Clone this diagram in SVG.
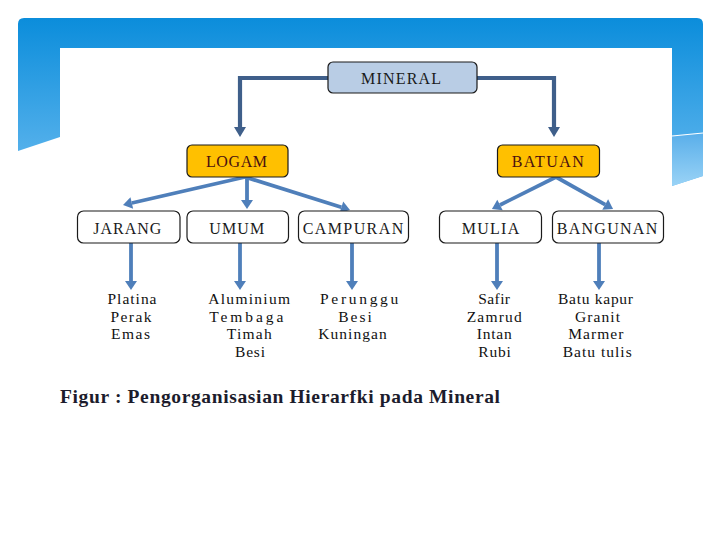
<svg xmlns="http://www.w3.org/2000/svg" width="720" height="540" viewBox="0 0 720 540">
<defs>
<linearGradient id="frameGrad" x1="0" y1="18" x2="0" y2="186" gradientUnits="userSpaceOnUse">
<stop offset="0" stop-color="#0b8ddb"/>
<stop offset="1" stop-color="#66b9ef"/>
</linearGradient>
<linearGradient id="lowGrad" x1="0" y1="134" x2="0" y2="186" gradientUnits="userSpaceOnUse">
<stop offset="0" stop-color="#5aafea"/>
<stop offset="1" stop-color="#9ad3f6"/>
</linearGradient>
<marker id="arrDark" markerUnits="userSpaceOnUse" markerWidth="14" markerHeight="14" viewBox="0 -7 11 14" refX="0" refY="0" orient="auto">
<path d="M0,-6 L10,0 L0,6 Z" fill="#3f5f8a"/>
</marker>
<marker id="arrLight" markerUnits="userSpaceOnUse" markerWidth="14" markerHeight="14" viewBox="0 -7 11 14" refX="0" refY="0" orient="auto">
<path d="M0,-6 L9,0 L0,6 Z" fill="#4f7fba"/>
</marker>
</defs>
<style>
.box{stroke:#1a1a1a;stroke-width:1.2}
.top{fill:#b9cde5}
.gold{fill:#ffc000}
.plain{fill:#ffffff}
.lbl{font-family:"Liberation Serif","DejaVu Serif",serif;font-size:16px;fill:#1a1a1a}
.lblg{font-family:"Liberation Serif","DejaVu Serif",serif;font-size:16px;fill:#4a1010}
.item{font-family:"Liberation Serif","DejaVu Serif",serif;font-size:15.5px;fill:#111111}
.cap{font-family:"Liberation Serif","DejaVu Serif",serif;font-size:19.5px;font-weight:bold;fill:#1c1c2c}
.dk{fill:none;stroke:#3f5f8a;stroke-width:4.2;marker-end:url(#arrDark)}
.lt{fill:none;stroke:#4f7fba;stroke-width:3.8;marker-end:url(#arrLight)}
</style>
<rect width="720" height="540" fill="#ffffff"/>
<g id="frame">
<path d="M18,151 L18,24 Q18,18 24,18 L697,18 Q703,18 703,24 L703,176 L672,186 L672,48 L60,48 L60,137 Z" fill="url(#frameGrad)"/>
<path d="M672,136 L703,133 L703,176 L672,186 Z" fill="url(#lowGrad)"/>
<path d="M672,136 L703,133" stroke="#ffffff" stroke-width="1.2" fill="none"/>
</g>
<g id="connectors">
<path class="dk" d="M328,78 H240 V127"/>
<path class="dk" d="M477,78 H554 V127"/>
<path class="lt" d="M245,177 L131.8,203"/>
<path class="lt" d="M247,177 L247,200"/>
<path class="lt" d="M245,177 L341.4,207.3"/>
<path class="lt" d="M556,177 L500,205"/>
<path class="lt" d="M556,177 L605.2,204.6"/>
<path class="lt" d="M131,243 V281"/>
<path class="lt" d="M240,243 V281"/>
<path class="lt" d="M352,243 V281"/>
<path class="lt" d="M497,243 V281"/>
<path class="lt" d="M599,243 V281"/>
</g>
<g id="mineral">
<rect class="box top" x="328" y="62" width="149" height="31" rx="5"/>
<text class="lbl" x="361" y="84.3" textLength="80" lengthAdjust="spacing">MINERAL</text>
</g>
<g id="logam">
<rect class="box gold" x="187" y="145" width="101" height="32" rx="5"/>
<text class="lblg" x="206" y="167.3" textLength="61" lengthAdjust="spacing">LOGAM</text>
</g>
<g id="batuan">
<rect class="box gold" x="497.5" y="145" width="102" height="32" rx="5"/>
<text class="lblg" x="511.7" y="167.3" textLength="72" lengthAdjust="spacing">BATUAN</text>
</g>
<g id="jarang">
<rect class="box plain" x="77.5" y="211" width="102.5" height="32" rx="6"/>
<text class="lbl" x="93.3" y="234" textLength="68" lengthAdjust="spacing">JARANG</text>
</g>
<g id="umum">
<rect class="box plain" x="187" y="211" width="101.5" height="32" rx="6"/>
<text class="lbl" x="209.3" y="234" textLength="55" lengthAdjust="spacing">UMUM</text>
</g>
<g id="campuran">
<rect class="box plain" x="298.5" y="211" width="110" height="32" rx="6"/>
<text class="lbl" x="302.7" y="234" textLength="100.5" lengthAdjust="spacing">CAMPURAN</text>
</g>
<g id="mulia">
<rect class="box plain" x="439.5" y="211" width="102" height="32" rx="6"/>
<text class="lbl" x="461.7" y="234" textLength="57.5" lengthAdjust="spacing">MULIA</text>
</g>
<g id="bangunan">
<rect class="box plain" x="552.5" y="211" width="111" height="32" rx="6"/>
<text class="lbl" x="556.7" y="234" textLength="100.5" lengthAdjust="spacing">BANGUNAN</text>
</g>
<g id="list-jarang">
<text class="item" x="107.5" y="304" textLength="49" lengthAdjust="spacing">Platina</text>
<text class="item" x="110.5" y="321.7" textLength="41" lengthAdjust="spacing">Perak</text>
<text class="item" x="111" y="339.3" textLength="39" lengthAdjust="spacing">Emas</text>
</g>
<g id="list-umum">
<text class="item" x="208.3" y="304" textLength="81.7" lengthAdjust="spacing">Aluminium</text>
<text class="item" x="209.3" y="321.7" textLength="74" lengthAdjust="spacing">Tembaga</text>
<text class="item" x="226.7" y="339.3" textLength="45" lengthAdjust="spacing">Timah</text>
<text class="item" x="235" y="357.3" textLength="30" lengthAdjust="spacing">Besi</text>
</g>
<g id="list-campuran">
<text class="item" x="320" y="304" textLength="78.3" lengthAdjust="spacing">Perunggu</text>
<text class="item" x="338.3" y="321.7" textLength="33.4" lengthAdjust="spacing">Besi</text>
<text class="item" x="318.3" y="339.3" textLength="68.4" lengthAdjust="spacing">Kuningan</text>
</g>
<g id="list-mulia">
<text class="item" x="478.3" y="304" textLength="31.7" lengthAdjust="spacing">Safir</text>
<text class="item" x="466.7" y="321.7" textLength="55" lengthAdjust="spacing">Zamrud</text>
<text class="item" x="476.7" y="339.3" textLength="35" lengthAdjust="spacing">Intan</text>
<text class="item" x="478.3" y="357.3" textLength="32.4" lengthAdjust="spacing">Rubi</text>
</g>
<g id="list-bangunan">
<text class="item" x="558" y="304" textLength="75" lengthAdjust="spacing">Batu kapur</text>
<text class="item" x="575" y="321.7" textLength="45" lengthAdjust="spacing">Granit</text>
<text class="item" x="568.3" y="339.3" textLength="55" lengthAdjust="spacing">Marmer</text>
<text class="item" x="562.7" y="357.3" textLength="69" lengthAdjust="spacing">Batu tulis</text>
</g>
<g id="caption">
<text class="cap" x="60" y="403" textLength="440" lengthAdjust="spacing">Figur : Pengorganisasian Hierarfki pada Mineral</text>
</g>
</svg>
